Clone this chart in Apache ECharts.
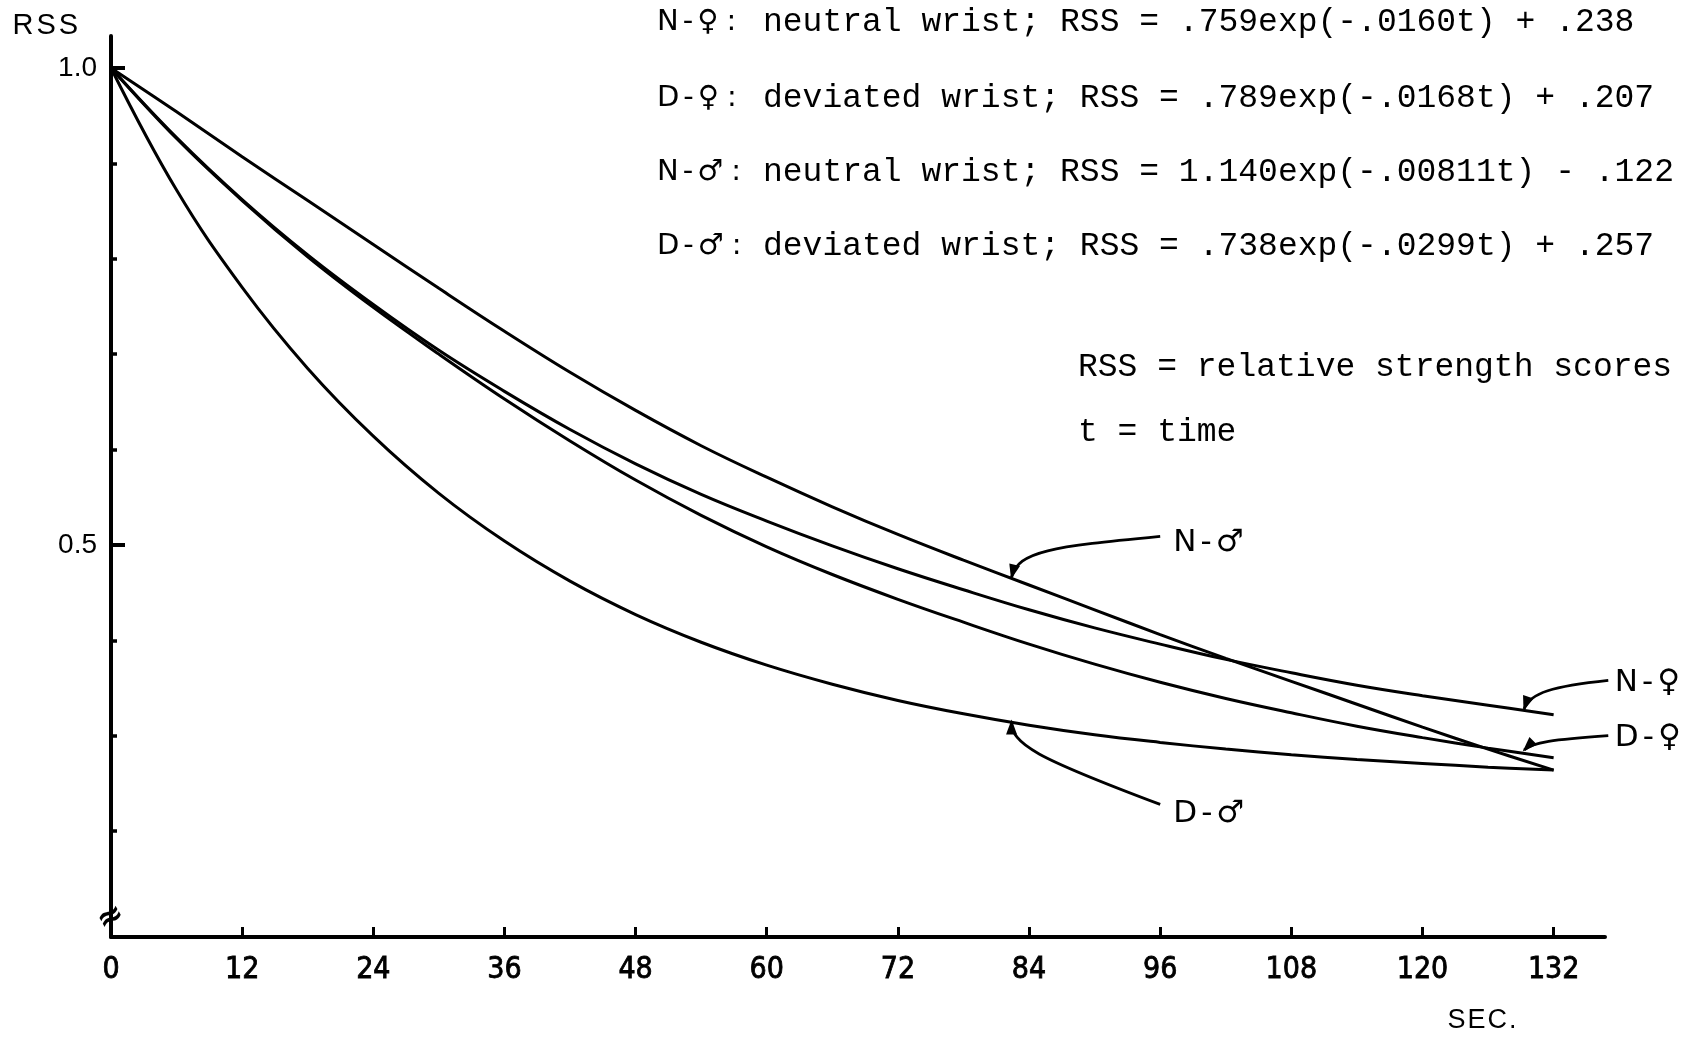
<!DOCTYPE html>
<html>
<head>
<meta charset="utf-8">
<script src="https://cdn.jsdelivr.net/npm/echarts@6.0.0/dist/echarts.min.js"></script>
<style>
  html, body { margin: 0; padding: 0; background: #fff; }
  #chart { width: 1692px; height: 1037px; }
</style>
</head>
<body>
<div id="chart"></div>
<script>
// Time axis (seconds) and relative strength scores for each condition
const timeSec = [0, 6, 12, 18, 24, 30, 36, 42, 48, 54, 60, 66, 72, 78, 84, 90, 96, 102, 108, 114, 120, 126, 132];
const nFemale = [1.000, 0.927, 0.862, 0.804, 0.752, 0.704, 0.661, 0.621, 0.585, 0.553, 0.525, 0.499, 0.475, 0.453, 0.432, 0.413, 0.396, 0.380, 0.366, 0.353, 0.342, 0.332, 0.322];
const dFemale = [1.000, 0.926, 0.861, 0.802, 0.749, 0.700, 0.653, 0.609, 0.568, 0.531, 0.498, 0.469, 0.443, 0.419, 0.396, 0.375, 0.356, 0.339, 0.324, 0.310, 0.298, 0.287, 0.277];
const nMale   = [1.000, 0.954, 0.907, 0.861, 0.815, 0.769, 0.724, 0.681, 0.641, 0.604, 0.571, 0.540, 0.511, 0.484, 0.458, 0.432, 0.406, 0.381, 0.357, 0.333, 0.309, 0.286, 0.264];
const dMale   = [1.000, 0.872, 0.770, 0.685, 0.614, 0.554, 0.504, 0.462, 0.427, 0.398, 0.374, 0.354, 0.337, 0.323, 0.311, 0.301, 0.293, 0.286, 0.280, 0.275, 0.271, 0.267, 0.264];

const xTicks = [0, 12, 24, 36, 48, 60, 72, 84, 96, 108, 120, 132];
const yMinorTicks = [0.2, 0.3, 0.4, 0.6, 0.7, 0.8, 0.9];
const yMajorTicks = [0.5, 1.0];

const equationLines = [
  { tag: ['N', '-', '\u2640'], text: 'neutral wrist; RSS = .759exp(-.0160t) + .238' },
  { tag: ['D', '-', '\u2640'], text: 'deviated wrist; RSS = .789exp(-.0168t) + .207' },
  { tag: ['N', '-', '\u2642'], text: 'neutral wrist; RSS = 1.140exp(-.00811t) - .122' },
  { tag: ['D', '-', '\u2642'], text: 'deviated wrist; RSS = .738exp(-.0299t) + .257' }
];
const keyLines = ['RSS = relative strength scores', 't = time'];

const INK = '#000';
const numFont = '"Liberation Sans Narrow", "DejaVu Sans Condensed", "Liberation Sans", sans-serif';
const monoFont = '"Liberation Mono", "DejaVu Sans Mono", monospace';
const sansFont = '"DejaVu Sans", "Liberation Sans", sans-serif';
const plainFont = '"Liberation Sans", "DejaVu Sans", sans-serif';

const pairs = (ys) => timeSec.map((t, i) => [t, ys[i]]);

// Spread the characters of a short label apart, typewriter style, as one rich text string
const spaced = (chars) => chars.map((c) => '{c|' + c + '}').join('');

const chart = echarts.init(document.getElementById('chart'), null, { renderer: 'canvas' });

const curve = (name, ys) => ({
  name, type: 'line', data: pairs(ys), smooth: 0.4, symbol: 'none',
  lineStyle: { color: INK, width: 3 }, z: 3, animation: false
});

chart.setOption({
  animation: false,
  backgroundColor: '#fff',
  grid: { left: 111, right: 87, top: 36, bottom: 100 },
  xAxis: {
    type: 'value', min: 0, max: 136.7,
    axisLine: { show: true, lineStyle: { color: INK, width: 4 } },
    axisTick: { show: true, inside: true, length: 10, customValues: xTicks, lineStyle: { color: INK, width: 3 } },
    axisLabel: {
      show: true, customValues: xTicks, margin: 18, color: INK, fontSize: 30, fontFamily: numFont,
      textBorderColor: INK, textBorderWidth: 0.8
    },
    splitLine: { show: false }
  },
  yAxis: [
    {
      type: 'value', min: 0.089, max: 1.0335, position: 'left',
      axisLine: { show: true, lineStyle: { color: INK, width: 4 } },
      axisTick: { show: true, inside: true, length: 6, customValues: yMinorTicks, lineStyle: { color: INK, width: 3.5 } },
      axisLabel: { show: false },
      splitLine: { show: false }
    },
    {
      type: 'value', min: 0.089, max: 1.0335, position: 'left', offset: 0,
      axisLine: { show: false },
      axisTick: { show: true, inside: true, length: 14, customValues: yMajorTicks, lineStyle: { color: INK, width: 4 } },
      axisLabel: {
        show: true, customValues: yMajorTicks, margin: 14, color: INK, fontSize: 28, fontFamily: plainFont,
        formatter: (v) => v.toFixed(1)
      },
      splitLine: { show: false }
    }
  ],
  series: [
    curve('N-\u2640', nFemale),
    curve('D-\u2640', dFemale),
    curve('N-\u2642', nMale),
    curve('D-\u2642', dMale)
  ]
});

// Leader lines from curve labels to their curves, given in data coordinates:
// tail, control 1, control 2, tip (arrowhead end)
const leaders = [
  { label: ['N', '-', '\u2642'], at: [97.2, 0.502], path: [[96.0, 0.509], [86.1, 0.498], [83.0, 0.494], [82.4, 0.466]] },
  { label: ['D', '-', '\u2642'], at: [97.2, 0.218], path: [[96.0, 0.228], [84.6, 0.277], [82.4, 0.291], [82.4, 0.315]] },
  { label: ['N', '-', '\u2640'], at: [137.6, 0.355], path: [[137.0, 0.358], [132.0, 0.352], [129.8, 0.345], [129.3, 0.328]] },
  { label: ['D', '-', '\u2640'], at: [137.6, 0.298], path: [[137.0, 0.300], [132.0, 0.296], [130.0, 0.293], [129.3, 0.285]] }
];

function drawAnnotations() {
  const px = (p) => chart.convertToPixel({ gridIndex: 0 }, p);
  const g = [];

  leaders.forEach((l) => {
    const [a, b, c, d] = l.path.map(px);
    g.push({
      type: 'bezierCurve', silent: true, z: 5,
      shape: { x1: a[0], y1: a[1], cpx1: b[0], cpy1: b[1], cpx2: c[0], cpy2: c[1], x2: d[0], y2: d[1] },
      style: { stroke: INK, lineWidth: 2.8, fill: null }
    });
    // arrowhead along the final direction of the leader
    let dx = d[0] - c[0], dy = d[1] - c[1];
    const len = Math.hypot(dx, dy) || 1; dx /= len; dy /= len;
    const L = 13, W = 5.5;
    g.push({
      type: 'polygon', silent: true, z: 6,
      shape: { points: [
        [d[0] + dx * 2, d[1] + dy * 2],
        [d[0] - dx * L - dy * W, d[1] - dy * L + dx * W],
        [d[0] - dx * L + dy * W, d[1] - dy * L - dx * W]
      ] },
      style: { fill: INK }
    });
    const p = px(l.at);
    g.push({
      type: 'text', silent: true, z: 6,
      style: {
        text: spaced(l.label), x: p[0] - 2, y: p[1], align: 'left', verticalAlign: 'middle',
        rich: { c: { fontSize: 31, fontFamily: sansFont, fill: INK, padding: [0, 2] } }
      }
    });
  });

  // axis break mark at the origin of the value axis
  const o = px([0, 0.109]);
  g.push({
    type: 'text', silent: true, z: 6, x: o[0], y: o[1], rotation: Math.PI / 6,
    style: { text: '\u2248', x: 0, y: 0, fontSize: 32, fontWeight: 'bold', fontFamily: sansFont, fill: INK, align: 'center', verticalAlign: 'middle' }
  });

  // axis titles
  g.push({
    type: 'text', silent: true,
    style: {
      text: spaced(['R', 'S', 'S']), x: 11, y: 26, align: 'left', verticalAlign: 'middle',
      rich: { c: { fontSize: 29, fontFamily: plainFont, fill: INK, padding: [0, 1.5] } }
    }
  });
  g.push({
    type: 'text', silent: true,
    style: {
      text: spaced(['S', 'E', 'C', '.']), x: 1482, y: 1021, align: 'center', verticalAlign: 'middle',
      rich: { c: { fontSize: 27, fontFamily: plainFont, fill: INK, padding: [0, 1] } }
    }
  });

  // fitted equations and key
  const lineY = [22, 98, 172, 246];
  equationLines.forEach((e, i) => {
    g.push({
      type: 'text', silent: true,
      style: {
        text: spaced(e.tag) + '{k|:}', x: 655, y: lineY[i], align: 'left', verticalAlign: 'middle',
        rich: {
          c: { fontSize: 29, fontFamily: sansFont, fill: INK, padding: [0, 2] },
          k: { fontSize: 29, fontFamily: sansFont, fill: INK, padding: [0, 0, 0, 6] }
        }
      }
    });
    g.push({
      type: 'text', silent: true,
      style: { text: e.text, x: 763, y: lineY[i], fontSize: 33, fontFamily: monoFont, fill: INK, align: 'left', verticalAlign: 'middle' }
    });
  });
  const keyY = [367, 432];
  keyLines.forEach((t, i) => {
    g.push({
      type: 'text', silent: true,
      style: { text: t, x: 1078, y: keyY[i], fontSize: 33, fontFamily: monoFont, fill: INK, align: 'left', verticalAlign: 'middle' }
    });
  });

  chart.setOption({ graphic: g });
}

drawAnnotations();
</script>
</body>
</html>
